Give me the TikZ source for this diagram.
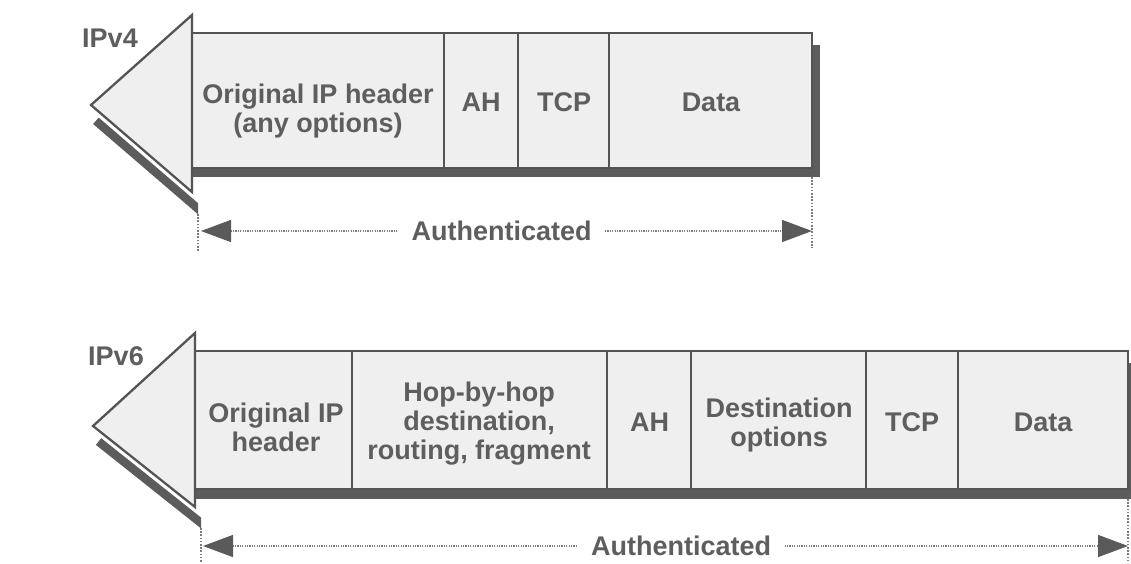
\documentclass[tikz,border=0pt]{standalone}
\usepackage{fontspec}
\setmainfont{Liberation Sans}
\usetikzlibrary{arrows.meta}

\definecolor{edgecol}{HTML}{545454}
\definecolor{shadecol}{HTML}{5C5C5C}
\definecolor{boxfill}{HTML}{EFEFEF}
\definecolor{txtcol}{HTML}{5E5E5E}
\definecolor{dotcol}{HTML}{7C7C7C}
\definecolor{tipcol}{HTML}{5A5A5A}

\newcommand{\lblfont}{\fontsize{27}{29}\selectfont\bfseries}

\tikzset{
  cell/.style={draw=edgecol, line width=2.3pt, fill=boxfill, inner sep=0pt},
  celltext/.style={font=\lblfont, text=txtcol, align=center, inner sep=0pt},
  tagtext/.style={font=\lblfont, text=txtcol, inner sep=0pt},
  headtri/.style={draw=edgecol, line width=2.3pt, fill=boxfill, line join=miter},
  shade/.style={fill=shadecol},
  guide/.style={draw=dotcol, line width=1.1pt, dash pattern=on 1.6pt off 1.6pt},
  authline/.style={draw=dotcol, line width=1.4pt, dash pattern=on 1.2pt off 1.2pt,
    {Triangle[length=30pt,width=22pt,color=tipcol,fill=tipcol]}-{Triangle[length=30pt,width=22pt,color=tipcol,fill=tipcol]}},
  authtext/.style={font=\lblfont, text=txtcol, fill=white, inner xsep=13pt, inner ysep=2pt}
}

\begin{document}
\begin{tikzpicture}[x=1pt,y=-1pt]
\useasboundingbox (0,0) rectangle (1131,563);
\fill[white] (0,0) rectangle (1131,563);

% ---------------- IPv4 packet ----------------
\coordinate (T4) at (192,15);
\coordinate (A4) at (91,105);
\coordinate (B4) at (192,192);

% drop shadows
\fill[shade] (192,45) rectangle (820,177);
\fill[shade] (98.7,117.6) -- (93.1,124.0) -- (198,214.3) -- (198,203.1) -- cycle;

% header cells
\node[cell, minimum width=252pt, minimum height=135pt] (c4a) at (318,100.5) {};
\node[cell, minimum width=74pt,  minimum height=135pt] (c4b) at (481,100.5) {};
\node[cell, minimum width=91pt,  minimum height=135pt] (c4c) at (563.5,100.5) {};
\node[cell, minimum width=203pt, minimum height=135pt] (c4d) at (710.5,100.5) {};

% arrow head on the left
\draw[headtri] (T4) -- (A4) -- (B4) -- cycle;

\node[celltext] (t4a) at (318,111) {Original IP header\\(any options)};
\node[celltext] (t4b) at (481,102.5) {AH};
\node[celltext] (t4c) at (564,102.5) {TCP};
\node[celltext] (t4d) at (711,102.5) {Data};
\node[tagtext] (tag4) at (110,38) {IPv4};

% authenticated span
\coordinate (g4a) at (198,214);
\coordinate (g4b) at (198,252);
\coordinate (g4c) at (812,177);
\coordinate (g4d) at (812,248);
\draw[guide] (g4a) -- (g4b);
\draw[guide] (g4c) -- (g4d);
\coordinate (v4L) at (201,231);
\coordinate (v4R) at (812,231);
\draw[authline] (v4L) -- node[pos=0.492, authtext] (auth4) {Authenticated} (v4R);

% ---------------- IPv6 packet ----------------
\coordinate (T6) at (195,333);
\coordinate (A6) at (93,426);
\coordinate (B6) at (195,507);

% drop shadows
\fill[shade] (195,363) rectangle (1136,499);
\fill[shade] (101.2,438.2) -- (95.9,444.9) -- (201,528.4) -- (201,517.5) -- cycle;

% header cells
\node[cell, minimum width=157pt, minimum height=138pt] (c6a) at (273.5,420) {};
\node[cell, minimum width=255pt, minimum height=138pt] (c6b) at (479.5,420) {};
\node[cell, minimum width=84pt,  minimum height=138pt] (c6c) at (649,420) {};
\node[cell, minimum width=175pt, minimum height=138pt] (c6d) at (778.5,420) {};
\node[cell, minimum width=92pt,  minimum height=138pt] (c6e) at (912,420) {};
\node[cell, minimum width=170pt, minimum height=138pt] (c6f) at (1043,420) {};

% arrow head on the left
\draw[headtri] (T6) -- (A6) -- (B6) -- cycle;

\node[celltext] (t6a) at (276,427) {Original IP\\header};
\node[celltext] (t6b) at (479,424) {Hop-by-hop\\destination,\\routing, fragment};
\node[celltext] (t6c) at (649.5,422) {AH};
\node[celltext] (t6d) at (779,425) {Destination\\options};
\node[celltext] (t6e) at (912,422) {TCP};
\node[celltext] (t6f) at (1043,422) {Data};
\node[tagtext] (tag6) at (116,356) {IPv6};

% authenticated span
\coordinate (g6a) at (201,528);
\coordinate (g6b) at (201,563);
\coordinate (g6c) at (1128,499);
\coordinate (g6d) at (1128,563);
\draw[guide] (g6a) -- (g6b);
\draw[guide] (g6c) -- (g6d);
\coordinate (v6L) at (203,546);
\coordinate (v6R) at (1128,546);
\draw[authline] (v6L) -- node[pos=0.517, authtext] (auth6) {Authenticated} (v6R);
\end{tikzpicture}
\end{document}
